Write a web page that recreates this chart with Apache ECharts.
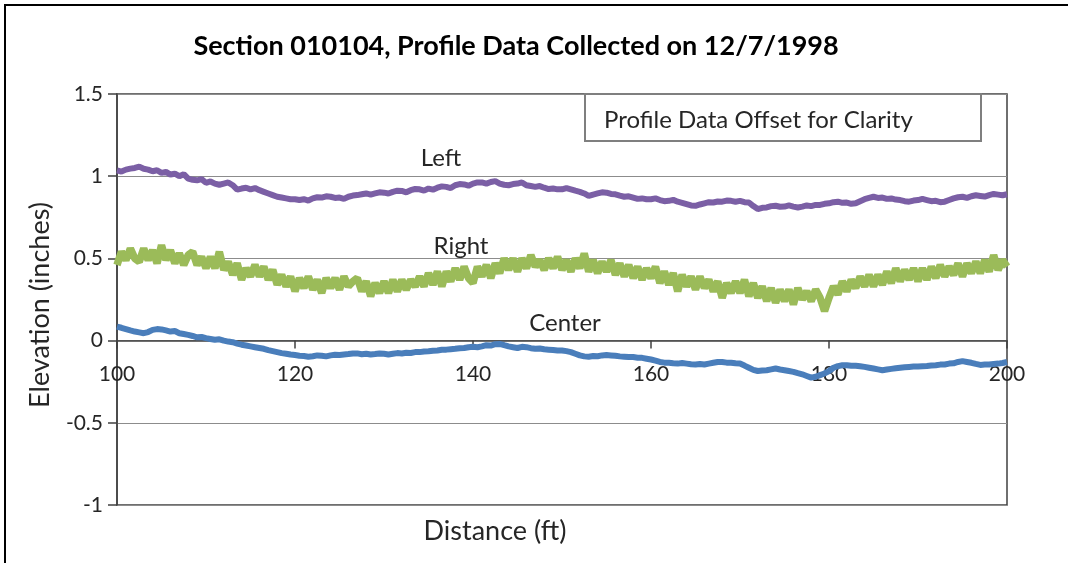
<!DOCTYPE html>
<html>
<head>
<meta charset="utf-8">
<script src="https://cdn.jsdelivr.net/npm/echarts@6/dist/echarts.min.js"></script>
<style>
  html, body { margin: 0; padding: 0; background: #fff; }
  #chart { width: 1068px; height: 563px; }
</style>
</head>
<body>
<div id="chart"></div>
<script>
// distance along the section, every half foot
const distance = [];
for (let d = 100; d <= 200; d += 0.5) distance.push(d);

// profile elevations (inches), offset for clarity
const leftProfile = [
  1.035, 1.028, 1.04, 1.046, 1.05, 1.058, 1.045, 1.04, 1.03, 1.036,
  1.02, 1.026, 1.01, 1.015, 1.0, 1.012, 0.985, 0.978, 0.975, 0.982,
  0.96, 0.968, 0.955, 0.948, 0.955, 0.962, 0.945, 0.918, 0.925, 0.93,
  0.92, 0.928, 0.915, 0.905, 0.895, 0.885, 0.875, 0.87, 0.865, 0.86,
  0.86, 0.855, 0.86, 0.852, 0.865, 0.872, 0.87, 0.878, 0.875, 0.868,
  0.87, 0.862, 0.875, 0.882, 0.885, 0.89, 0.895, 0.888, 0.895, 0.902,
  0.9, 0.895, 0.905, 0.912, 0.91, 0.902, 0.915, 0.922, 0.92, 0.912,
  0.925, 0.918, 0.93, 0.938, 0.935, 0.928, 0.945, 0.952, 0.95, 0.942,
  0.955, 0.962, 0.962, 0.955, 0.965, 0.97, 0.955, 0.948, 0.945, 0.952,
  0.955, 0.962, 0.945, 0.94, 0.935, 0.94, 0.93, 0.922, 0.925, 0.92,
  0.92, 0.928, 0.92, 0.912, 0.905, 0.895, 0.88, 0.888, 0.895, 0.902,
  0.9, 0.892, 0.89, 0.882, 0.875, 0.878, 0.87, 0.862, 0.865, 0.86,
  0.86, 0.865, 0.855, 0.848, 0.85, 0.856, 0.845, 0.838, 0.83, 0.822,
  0.82, 0.828, 0.835, 0.842, 0.84, 0.846, 0.845, 0.852, 0.85, 0.845,
  0.85, 0.842, 0.84, 0.818, 0.8, 0.808, 0.81, 0.818, 0.82, 0.814,
  0.815, 0.822, 0.815, 0.81, 0.815, 0.822, 0.818, 0.825, 0.825, 0.832,
  0.835, 0.842, 0.845, 0.838, 0.84, 0.832, 0.835, 0.848, 0.86, 0.868,
  0.875, 0.868, 0.87, 0.862, 0.865, 0.858, 0.855, 0.848, 0.845, 0.852,
  0.855, 0.862, 0.855, 0.848, 0.85, 0.842, 0.845, 0.855, 0.865, 0.872,
  0.875, 0.868, 0.878, 0.884, 0.88, 0.876, 0.885, 0.892, 0.888, 0.884,
  0.89
];

const rightProfile = [
  0.46, 0.54, 0.49, 0.56, 0.5, 0.48, 0.56, 0.49, 0.55, 0.47,
  0.58, 0.49, 0.55, 0.47, 0.53, 0.46, 0.52, 0.54, 0.46, 0.51,
  0.44, 0.51, 0.44, 0.54, 0.43, 0.48, 0.4, 0.47, 0.37, 0.44,
  0.39, 0.46, 0.39, 0.45, 0.37, 0.43, 0.34, 0.4, 0.33, 0.39,
  0.3, 0.38, 0.32, 0.39, 0.31, 0.37, 0.29, 0.38, 0.32, 0.38,
  0.31, 0.39, 0.33, 0.36, 0.38, 0.3, 0.36, 0.27, 0.35, 0.29,
  0.36, 0.29, 0.37, 0.3, 0.37, 0.31, 0.37, 0.33, 0.39, 0.33,
  0.41, 0.34, 0.42, 0.33, 0.42, 0.36, 0.44, 0.37, 0.45, 0.38,
  0.35, 0.45, 0.39, 0.46, 0.38, 0.47, 0.41, 0.5, 0.43, 0.5,
  0.42, 0.5, 0.44, 0.52, 0.45, 0.49, 0.43, 0.5, 0.44, 0.51,
  0.43, 0.49, 0.42, 0.5, 0.44, 0.53, 0.42, 0.49, 0.41, 0.48,
  0.42, 0.49, 0.4, 0.47, 0.39, 0.46, 0.38, 0.45, 0.37, 0.44,
  0.38, 0.45, 0.35, 0.42, 0.34, 0.41, 0.3, 0.4, 0.33, 0.39,
  0.31, 0.39, 0.32, 0.37, 0.3, 0.36, 0.26, 0.35, 0.29, 0.36,
  0.29, 0.37, 0.27, 0.35, 0.26, 0.33, 0.24, 0.32, 0.23, 0.31,
  0.24, 0.31, 0.22, 0.32, 0.25, 0.3, 0.24, 0.31, 0.26, 0.18,
  0.26, 0.33, 0.28, 0.36, 0.3, 0.37, 0.32, 0.39, 0.33, 0.4,
  0.33, 0.4, 0.34, 0.42, 0.35, 0.44, 0.36, 0.43, 0.37, 0.44,
  0.36, 0.44, 0.37, 0.45, 0.38, 0.46, 0.39, 0.45, 0.4, 0.47,
  0.39, 0.47, 0.41, 0.48, 0.41, 0.49, 0.42, 0.52, 0.43, 0.49,
  0.45
];

const centerProfile = [
  0.085, 0.078, 0.07, 0.062, 0.055, 0.05, 0.045, 0.052, 0.065, 0.07,
  0.068, 0.062, 0.055, 0.058, 0.045, 0.04, 0.035, 0.028, 0.02, 0.022,
  0.015, 0.01, 0.005, 0.008, 0.0, -0.006, -0.01, -0.018, -0.025, -0.03,
  -0.035, -0.04, -0.045, -0.05, -0.058, -0.064, -0.07, -0.076, -0.08, -0.085,
  -0.088, -0.092, -0.094, -0.098, -0.095, -0.09, -0.092, -0.096, -0.09, -0.086,
  -0.087, -0.084, -0.082, -0.078, -0.078, -0.083, -0.08, -0.085, -0.082, -0.078,
  -0.08, -0.084, -0.08, -0.076, -0.078, -0.074, -0.075, -0.07, -0.07, -0.066,
  -0.065, -0.062, -0.06, -0.056, -0.055, -0.052, -0.05, -0.046, -0.045, -0.04,
  -0.038, -0.04, -0.035, -0.028, -0.03, -0.022, -0.02, -0.028, -0.035, -0.04,
  -0.045, -0.038, -0.04, -0.046, -0.05, -0.048, -0.053, -0.055, -0.057, -0.06,
  -0.06, -0.064, -0.07, -0.08, -0.09, -0.096, -0.098, -0.094, -0.095, -0.09,
  -0.088, -0.09, -0.092, -0.096, -0.098, -0.1, -0.1, -0.104, -0.105, -0.11,
  -0.115, -0.122, -0.13, -0.134, -0.135, -0.138, -0.14, -0.136, -0.14, -0.144,
  -0.145, -0.142, -0.145, -0.14, -0.135, -0.13, -0.13, -0.134, -0.135, -0.138,
  -0.14, -0.152, -0.165, -0.178, -0.185, -0.182, -0.18, -0.175, -0.17, -0.176,
  -0.18, -0.185, -0.19, -0.198, -0.205, -0.215, -0.225, -0.22, -0.21, -0.2,
  -0.185, -0.165, -0.155, -0.15, -0.15, -0.153, -0.153, -0.156, -0.16, -0.165,
  -0.17, -0.175, -0.18, -0.176, -0.172, -0.168, -0.165, -0.162, -0.16, -0.158,
  -0.158, -0.156, -0.155, -0.152, -0.15, -0.146, -0.145, -0.14, -0.138, -0.13,
  -0.125, -0.13, -0.135, -0.142, -0.148, -0.146, -0.145, -0.142, -0.14, -0.136,
  -0.13
];

const pairs = (vals) => distance.map((d, i) => [d, vals[i]]);

const font = 'Lato, "Open Sans", sans-serif';
const txt = '#262626';
const label = (text, x, y, size) => ({
  type: 'text', z: 11, x: x, y: y,
  style: { text: text, font: size + 'px ' + font, fill: txt, align: 'center', verticalAlign: 'middle' }
});

const myChart = echarts.init(document.getElementById('chart'));

const option = {
  animation: false,
  backgroundColor: '#fff',
  grid: {
    left: 117, right: 61, top: 94, bottom: 58,
    show: true,
    borderColor: '#404040',
    borderWidth: 1.5
  },
  xAxis: {
    type: 'value',
    min: 100, max: 200, interval: 20,
    // axis sits on y = 0, 1.5 units above the bottom of the plot (411px for 2.5 units)
    offset: -164.4,
    axisLine: { onZero: false, lineStyle: { color: '#404040', width: 1.5 } },
    axisTick: { show: true, length: 8, lineStyle: { color: '#404040', width: 1.5 } },
    axisLabel: { margin: 23, fontFamily: font, fontSize: 21, color: txt },
    splitLine: { show: false }
  },
  yAxis: {
    type: 'value',
    min: -1, max: 1.5, interval: 0.5,
    axisLine: { show: true, lineStyle: { color: '#404040', width: 1.5 } },
    axisTick: { show: true, length: 9, lineStyle: { color: '#404040', width: 1.5 } },
    axisLabel: { margin: 14, fontFamily: font, fontSize: 21, color: txt },
    splitLine: { show: true, lineStyle: { color: '#8c8c8c', width: 1 } }
  },
  graphic: [
    {
      type: 'rect', silent: true, z: 0,
      shape: { x: 5, y: 5, width: 1100, height: 600 },
      style: { fill: 'none', stroke: '#000', lineWidth: 2 }
    },
    {
      type: 'rect', z: 10,
      shape: { x: 585, y: 94, width: 396, height: 47 },
      style: { fill: '#fff', stroke: '#7f7f7f', lineWidth: 2 }
    },
    {
      type: 'text', z: 11, x: 604, y: 120,
      style: { text: 'Profile Data Offset for Clarity', font: '24px ' + font, fill: txt, verticalAlign: 'middle' }
    },
    {
      type: 'text', z: 11, x: 516, y: 46,
      style: { text: 'Section 010104, Profile Data Collected on 12/7/1998', font: 'bold 27px ' + font, fill: '#000', align: 'center', verticalAlign: 'middle' }
    },
    label('Left', 441, 158, 24),
    label('Right', 461, 246, 24),
    label('Center', 565, 323, 24),
    label('Distance (ft)', 495, 531, 27),
    {
      type: 'text', z: 11, x: 40, y: 305, rotation: Math.PI / 2,
      style: { text: 'Elevation (inches)', font: '27px ' + font, fill: txt, align: 'center', verticalAlign: 'middle' }
    }
  ],
  series: [
    {
      name: 'Left', type: 'line', showSymbol: false,
      data: pairs(leftProfile),
      lineStyle: { color: '#7b5fa5', width: 6 },
      itemStyle: { color: '#7b5fa5' }
    },
    {
      name: 'Right', type: 'line', showSymbol: false,
      data: pairs(rightProfile),
      lineStyle: { color: '#9bbb59', width: 7.5 },
      itemStyle: { color: '#9bbb59' }
    },
    {
      name: 'Center', type: 'line', showSymbol: false,
      data: pairs(centerProfile),
      lineStyle: { color: '#4a7ebb', width: 6 },
      itemStyle: { color: '#4a7ebb' }
    }
  ]
};

myChart.setOption(option);
</script>
</body>
</html>
